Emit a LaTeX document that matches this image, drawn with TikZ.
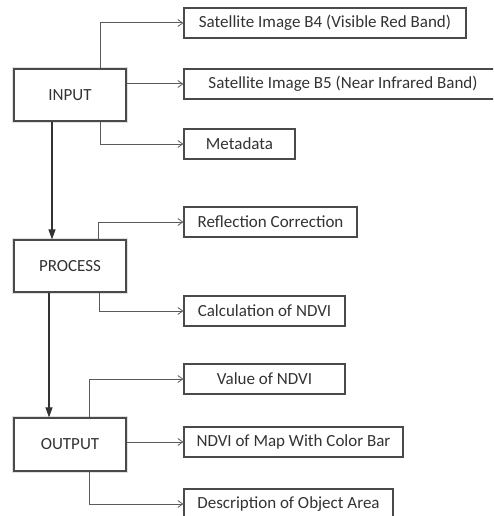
\documentclass[tikz,border=0pt]{standalone}
\usepackage{fontspec}
\setmainfont{Carlito}
\usetikzlibrary{arrows.meta}
\definecolor{ln}{HTML}{5A5A5A}
\definecolor{bd}{HTML}{4A4A4A}
\definecolor{tx}{HTML}{333333}
\begin{document}
\begin{tikzpicture}[x=1pt,y=-1pt,
  every node/.style={font=\fontsize{17}{20}\selectfont, text=tx},
  mainbox/.style={draw=bd, line width=1.2pt, fill=white, minimum width=112pt, inner sep=0pt,
    preaction={draw=black!12, line width=4pt}},
  subbox/.style={draw=bd, line width=1.1pt, fill=white, minimum height=30pt, inner sep=0pt},
  br/.style={draw=ln, line width=1pt, -{Straight Barb[length=5pt,width=7pt,line width=0.8pt]}},
  mainarrow/.style={draw=black!80, line width=1.1pt, -{Triangle[length=10pt,width=7pt]}}]
\useasboundingbox (0,0) rectangle (493,516);
\clip (0,0) rectangle (493,516);
% main boxes
\node[mainbox, minimum height=52pt] (in) at (70,95) {INPUT};
\node[mainbox, minimum height=52pt] (pr) at (70,266) {PROCESS};
\node[mainbox, minimum height=53pt] (out) at (70,444.5) {OUTPUT};
% sub boxes
\node[subbox, minimum width=282pt] (b4) at (325,23) {Satellite Image B4 (Visible Red Band)};
\node[subbox, minimum width=318pt] (b5) at (343,84) {Satellite Image B5 (Near Infrared Band)};
\node[subbox, minimum width=111pt] (meta) at (239.5,144) {Metadata};
\node[subbox, minimum width=173pt] (rc) at (270.5,222) {Reflection Correction};
\node[subbox, minimum width=161pt] (calc) at (264.5,311) {Calculation of NDVI};
\node[subbox, minimum width=161pt] (val) at (264.5,379) {Value of NDVI};
\node[subbox, minimum width=219pt] (map) at (293.5,442) {NDVI of Map With Color Bar};
\node[subbox, minimum width=209pt] (desc) at (288.5,504) {Description of Object Area};
% branch connectors
\draw[br] ([xshift=30pt]in.north) |- (b4.west);
\draw[br] (in.east |- b5.west) -- (b5.west);
\draw[br] ([xshift=30pt]in.south) |- (meta.west);
\draw[br] ([xshift=28pt]pr.north) |- (rc.west);
\draw[br] ([xshift=29pt]pr.south) |- (calc.west);
\draw[br] ([xshift=19pt]out.north) |- (val.west);
\draw[br] (out.east |- map.west) -- (map.west);
\draw[br] ([xshift=19pt]out.south) |- (desc.west);
% main flow
\draw[mainarrow] ([xshift=-18pt]in.south) -- ([xshift=-18pt]pr.north);
\draw[mainarrow] ([xshift=-21pt]pr.south) -- ([xshift=-21pt]out.north);
\end{tikzpicture}
\end{document}
